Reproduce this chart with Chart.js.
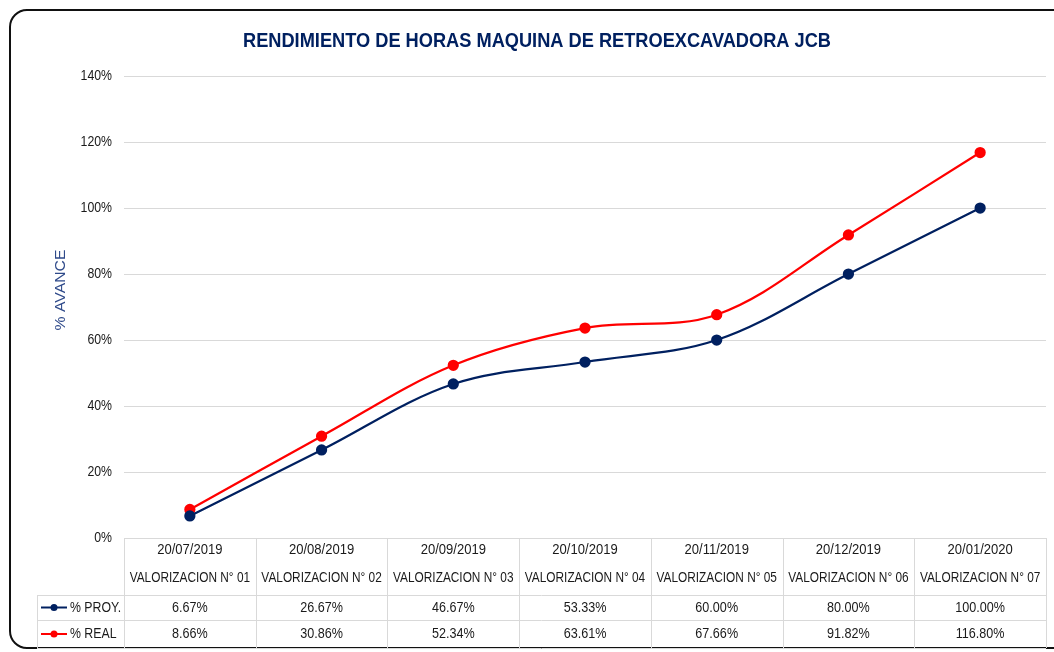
<!DOCTYPE html>
<html>
<head>
<meta charset="utf-8">
<script src="https://cdn.jsdelivr.net/npm/chart.js@4.4.0/dist/chart.umd.min.js"></script>
<style>
  html, body { margin: 0; padding: 0; background: #fff; overflow: hidden; }
  #frame {
    position: absolute; left: 9px; top: 9px; width: 1100px; height: 640px;
    border: 2.5px solid #111; border-radius: 18px; box-sizing: border-box;
  }
  #wrap { position: absolute; left: 0; top: 0; width: 1054px; height: 652px; }
</style>
</head>
<body>
<div id="frame"></div>
<div id="wrap"><canvas id="chart" width="1054" height="652"></canvas></div>
<script>
const fechas = ["20/07/2019", "20/08/2019", "20/09/2019", "20/10/2019", "20/11/2019", "20/12/2019", "20/01/2020"];
const valorizaciones = ["VALORIZACION N° 01", "VALORIZACION N° 02", "VALORIZACION N° 03", "VALORIZACION N° 04",
  "VALORIZACION N° 05", "VALORIZACION N° 06", "VALORIZACION N° 07"];
const proyectado = [6.67, 26.67, 46.67, 53.33, 60.00, 80.00, 100.00];
const real = [8.66, 30.86, 52.34, 63.61, 67.66, 91.82, 116.80];

const SANS = "'Liberation Sans', Arial, sans-serif";
const NAVY = "#002060";
const RED = "#ff0000";
const TEXT = "#1a1a1a";

// narrow text: regular sans squeezed sideways, like Arial Narrow / Calibri
function narrowText(ctx, str, x, y, squeeze) {
  ctx.save();
  ctx.translate(x, y);
  ctx.scale(squeeze, 1);
  ctx.fillText(str, 0, 0);
  ctx.restore();
}

// title, axis title, y tick labels and the data table under the plot
const extras = {
  id: "extras",
  afterDraw(chart) {
    const ctx = chart.ctx;
    const area = chart.chartArea;
    const x = chart.scales.x;
    const y = chart.scales.y;
    const colW = (area.right - area.left) / fechas.length;
    const rows = [area.bottom, area.bottom + 57, area.bottom + 82, area.bottom + 110];
    const legendLeft = 37;

    ctx.save();
    // title
    ctx.fillStyle = NAVY;
    ctx.font = "bold 20px " + SANS;
    ctx.textAlign = "center";
    ctx.textBaseline = "middle";
    const title = "RENDIMIENTO DE HORAS MAQUINA DE RETROEXCAVADORA JCB";
    narrowText(ctx, title, 537, 41, 588 / ctx.measureText(title).width);

    // y axis title
    ctx.save();
    ctx.translate(61, 290);
    ctx.rotate(-Math.PI / 2);
    ctx.font = "15px " + SANS;
    ctx.fillStyle = "#2f4a8a";
    narrowText(ctx, "% AVANCE", 0, 0, 1.05);
    ctx.restore();

    // y tick labels
    ctx.fillStyle = TEXT;
    ctx.font = "15px " + SANS;
    ctx.textAlign = "right";
    y.ticks.forEach((t) => {
      narrowText(ctx, t.value + "%", 112, y.getPixelForValue(t.value), 0.82);
    });

    // table grid
    ctx.strokeStyle = "#d9d9d9";
    ctx.lineWidth = 1;
    ctx.beginPath();
    ctx.moveTo(area.left, rows[0] + 0.5); ctx.lineTo(area.right, rows[0] + 0.5);
    for (let r = 1; r < rows.length; r++) {
      ctx.moveTo(legendLeft, rows[r] + 0.5); ctx.lineTo(area.right, rows[r] + 0.5);
    }
    for (let i = 0; i <= fechas.length; i++) {
      const cx = Math.round(area.left + i * colW) + 0.5;
      ctx.moveTo(cx, rows[0]); ctx.lineTo(cx, rows[3]);
    }
    ctx.moveTo(legendLeft + 0.5, rows[1]); ctx.lineTo(legendLeft + 0.5, rows[3]);
    ctx.stroke();

    // header and values
    ctx.fillStyle = TEXT;
    ctx.font = "15px " + SANS;
    ctx.textAlign = "center";
    fechas.forEach((f, i) => {
      const cx = x.getPixelForValue(i);
      narrowText(ctx, f, cx, rows[0] + 12, 0.87);
      narrowText(ctx, valorizaciones[i], cx, rows[0] + 40, 0.79);
      narrowText(ctx, proyectado[i].toFixed(2) + "%", cx, (rows[1] + rows[2]) / 2, 0.84);
      narrowText(ctx, real[i].toFixed(2) + "%", cx, (rows[2] + rows[3]) / 2, 0.84);
    });

    // legend keys in the table
    const keys = [[NAVY, "% PROY.", (rows[1] + rows[2]) / 2], [RED, "% REAL", (rows[2] + rows[3]) / 2]];
    keys.forEach(([color, label, cy]) => {
      ctx.strokeStyle = color;
      ctx.lineWidth = 2;
      ctx.beginPath();
      ctx.moveTo(41, cy); ctx.lineTo(67, cy);
      ctx.stroke();
      ctx.fillStyle = color;
      ctx.beginPath();
      ctx.arc(54, cy, 3.5, 0, Math.PI * 2);
      ctx.fill();
      ctx.fillStyle = TEXT;
      ctx.textAlign = "left";
      narrowText(ctx, label, 70, cy, 0.82);
    });
    ctx.restore();
  }
};

new Chart(document.getElementById("chart").getContext("2d"), {
  type: "line",
  data: {
    labels: fechas,
    datasets: [
      {
        label: "% PROY.",
        data: proyectado,
        borderColor: NAVY,
        backgroundColor: NAVY,
        borderWidth: 2.25,
        pointRadius: 4.5,
        tension: 0.35,
      },
      {
        label: "% REAL",
        data: real,
        borderColor: RED,
        backgroundColor: RED,
        borderWidth: 2.25,
        pointRadius: 4.5,
        tension: 0.35,
      },
    ],
  },
  options: {
    responsive: false,
    animation: false,
    layout: { padding: { top: 76, right: 8, bottom: 114, left: 0 } },
    plugins: {
      legend: { display: false },
      tooltip: { enabled: false },
    },
    scales: {
      x: { display: false, offset: true },
      y: {
        min: 0,
        max: 140,
        afterFit: (s) => { s.width = 124; },
        ticks: { stepSize: 20, display: false },
        grid: { color: "#d9d9d9", drawTicks: false },
        border: { display: false },
      },
    },
  },
  plugins: [extras],
});
</script>
</body>
</html>
